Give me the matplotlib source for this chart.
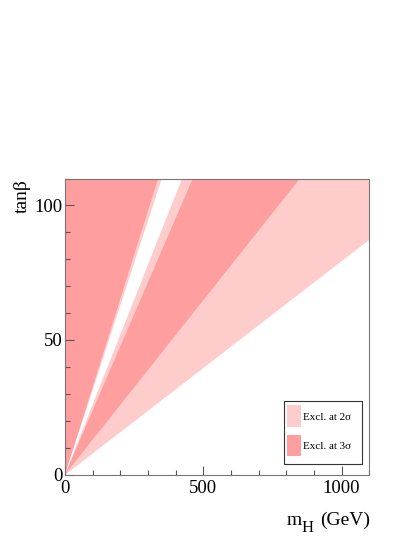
import matplotlib
matplotlib.use("Agg")
import matplotlib.pyplot as plt
from matplotlib.patches import Rectangle
from matplotlib.ticker import MultipleLocator

plt.rcParams['font.family'] = ['Liberation Serif', 'DejaVu Serif']

# Data: boundaries of excluded wedges (lines through the origin)
# m_H value (GeV) where each boundary reaches tan(beta) = 110
tanb_top = 110
mh_max = 1100
edge_3s_left_end = 335      # 3 sigma region left of this line
edge_2s_a_end = 350         # 2 sigma band to here
edge_white_end = 423        # allowed (white) wedge to here
edge_2s_b_end = 462         # 2 sigma band to here
edge_3s_right_end = 849     # 3 sigma region to here
tanb_2s_lower_at_max = 87   # lower 2 sigma boundary at m_H = 1100

col_2s = '#ffcccc'
col_3s = '#ff9e9e'
legend_labels = ['Excl. at 2σ', 'Excl. at 3σ']

fig = plt.figure(figsize=(4.15, 5.37), dpi=100)
ax = fig.add_axes([65/415, 1-474.5/537, 304.3/415, 296/537])

# base 2 sigma area
ax.fill([0, 0, mh_max, mh_max], [0, tanb_top, tanb_top, tanb_2s_lower_at_max],
        color=col_2s, lw=0)
# 3 sigma regions
ax.fill([0, 0, edge_3s_left_end], [0, tanb_top, tanb_top], color=col_3s, lw=0)
ax.fill([0, edge_2s_b_end, edge_3s_right_end], [0, tanb_top, tanb_top], color=col_3s, lw=0)
# allowed wedge
ax.fill([0, edge_2s_a_end, edge_white_end], [0, tanb_top, tanb_top], color='white', lw=0)

ax.set_xlim(0, mh_max)
ax.set_ylim(0, tanb_top)
ax.xaxis.set_major_locator(MultipleLocator(500))
ax.xaxis.set_minor_locator(MultipleLocator(100))
ax.yaxis.set_major_locator(MultipleLocator(50))
ax.yaxis.set_minor_locator(MultipleLocator(10))
ax.tick_params(which='both', direction='in', top=False, right=False, colors='#555555',
               labelcolor='black', width=0.8)
ax.tick_params(which='major', length=6.5, labelsize=13.5)
ax.tick_params(axis='x', which='major', pad=4)
ax.tick_params(axis='y', which='major', pad=2)
ax.tick_params(which='minor', length=3.4)
for s in ax.spines.values():
    s.set_color('#777777')
    s.set_linewidth(0.8)

# legend (manual)
ax.add_patch(Rectangle((0.7197, 0.0345), 0.2563, 0.2128, transform=ax.transAxes,
                       facecolor='white', edgecolor='#333333', lw=0.8, zorder=5))
ax.add_patch(Rectangle((0.7307, 0.1615), 0.045, 0.0723, transform=ax.transAxes,
                       facecolor=col_2s, lw=0, zorder=6))
ax.add_patch(Rectangle((0.7307, 0.0625), 0.045, 0.0700, transform=ax.transAxes,
                       facecolor=col_3s, lw=0, zorder=6))
ax.text(0.781, 0.194, legend_labels[0], transform=ax.transAxes, fontsize=8,
        va='center', ha='left', zorder=7)
ax.text(0.781, 0.094, legend_labels[1], transform=ax.transAxes, fontsize=8,
        va='center', ha='left', zorder=7)

fig.text(22/415, 1-179/537, 'tanβ', rotation=90, ha='center', va='top', fontsize=14)
# x-axis title: m with a large subscript H, then (GeV)
fig.text(287/415, 1-525/537, 'm', ha='left', va='baseline', fontsize=14)
fig.text(301.5/415, 1-532.5/537, 'H', ha='left', va='baseline', fontsize=12)
fig.text(370/415, 1-525/537, '(GeV)', ha='right', va='baseline', fontsize=14)

fig.savefig('out.png', dpi=100)
